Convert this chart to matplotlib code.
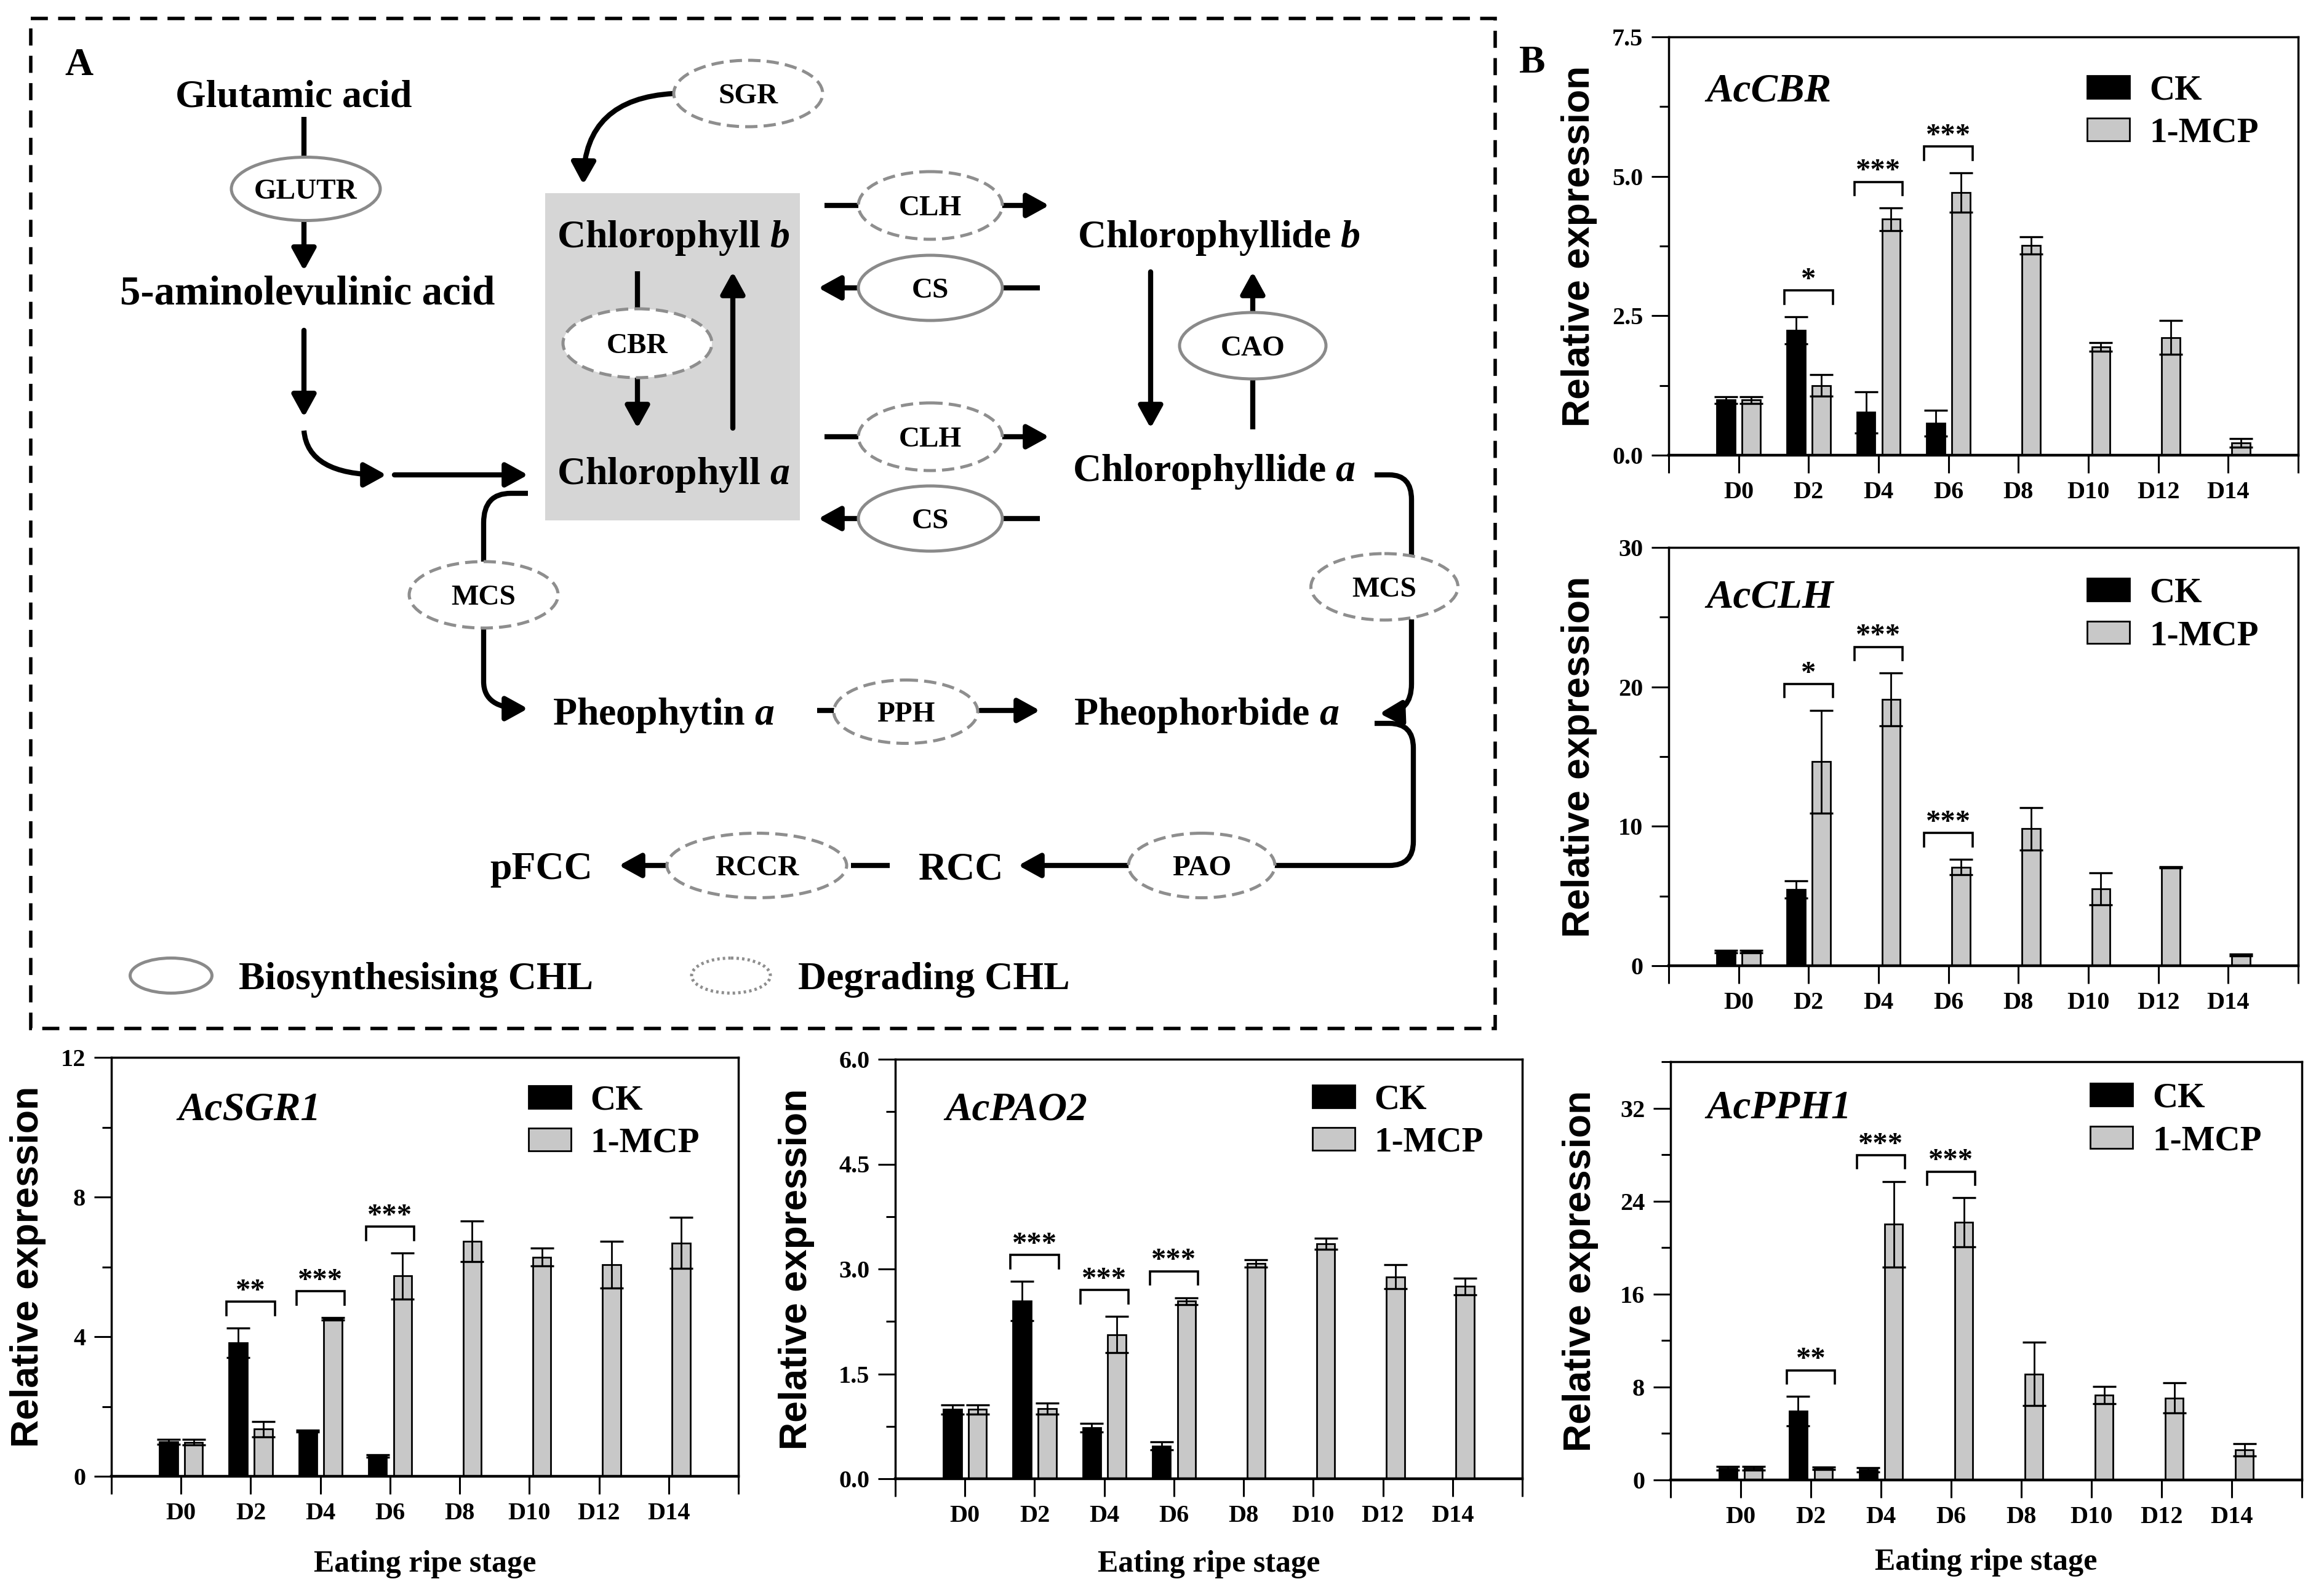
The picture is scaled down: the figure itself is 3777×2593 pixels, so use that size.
import numpy as np
import matplotlib
matplotlib.use('Agg')
import matplotlib.pyplot as plt
from matplotlib.patches import Ellipse, Rectangle, FancyArrowPatch
from matplotlib.path import Path
from matplotlib.ticker import MultipleLocator, FormatStrFormatter

plt.rcParams['font.family'] = ['Liberation Serif', 'DejaVu Serif']
plt.rcParams['font.weight'] = 'bold'
plt.rcParams['axes.labelweight'] = 'bold'
plt.rcParams['mathtext.fontset'] = 'custom'
plt.rcParams['mathtext.it'] = 'Liberation Serif:italic:bold'
plt.rcParams['mathtext.rm'] = 'Liberation Serif:bold'
plt.rcParams['mathtext.bf'] = 'Liberation Serif:bold'

W, H = 3777, 2593

# ---------------- data ----------------
stages = ['D0', 'D2', 'D4', 'D6', 'D8', 'D10', 'D12', 'D14']

cbr_ck = [0.99, 2.24, 0.77, 0.57, 0, 0, 0, 0]
cbr_ck_err = [0.06, 0.24, 0.37, 0.23, 0, 0, 0, 0]
cbr_mcp = [0.99, 1.25, 4.23, 4.71, 3.76, 1.94, 2.11, 0.22]
cbr_mcp_err = [0.06, 0.19, 0.20, 0.35, 0.15, 0.08, 0.30, 0.08]
cbr_sig = [(1, '*'), (2, '***'), (3, '***')]

clh_ck = [1.02, 5.46, 0, 0, 0, 0, 0, 0]
clh_ck_err = [0.08, 0.62, 0, 0, 0, 0, 0, 0]
clh_mcp = [1.02, 14.63, 19.10, 7.08, 9.83, 5.52, 7.06, 0.77]
clh_mcp_err = [0.10, 3.70, 1.88, 0.56, 1.52, 1.15, 0.05, 0.05]
clh_sig = [(1, '*'), (2, '***'), (3, '***')]

sgr_ck = [0.99, 3.82, 1.29, 0.58, 0, 0, 0, 0]
sgr_ck_err = [0.07, 0.42, 0.03, 0.03, 0, 0, 0, 0]
sgr_mcp = [0.97, 1.35, 4.51, 5.74, 6.73, 6.28, 6.06, 6.68]
sgr_mcp_err = [0.08, 0.22, 0.03, 0.66, 0.58, 0.25, 0.67, 0.73]
sgr_sig = [(1, '**'), (2, '***'), (3, '***')]

pao_ck = [0.99, 2.54, 0.73, 0.47, 0, 0, 0, 0]
pao_ck_err = [0.07, 0.28, 0.06, 0.06, 0, 0, 0, 0]
pao_mcp = [0.99, 1.00, 2.06, 2.54, 3.08, 3.36, 2.89, 2.75]
pao_mcp_err = [0.07, 0.08, 0.26, 0.05, 0.05, 0.08, 0.17, 0.12]
pao_sig = [(1, '***'), (2, '***'), (3, '***')]

pph_ck = [1.00, 5.93, 0.88, 0, 0, 0, 0, 0]
pph_ck_err = [0.15, 1.25, 0.20, 0, 0, 0, 0, 0]
pph_mcp = [1.00, 1.00, 22.00, 22.18, 9.13, 7.30, 7.05, 2.60]
pph_mcp_err = [0.15, 0.10, 3.70, 2.10, 2.72, 0.73, 1.30, 0.53]
pph_sig = [(1, '**'), (2, '***'), (3, '***')]

GRAY = '#c8c8c8'
fig = plt.figure(figsize=(W / 100, H / 100), dpi=100)

# ---------------- panel A : pathway diagram ----------------
dax = fig.add_axes([0, 0, 1, 1])
dax.set_xlim(0, W)
dax.set_ylim(H, 0)
dax.axis('off')

LW = 6
HEAD = '-|>,head_length=0.6,head_width=0.33'
MS = 36
TXT = 46
ETXT = 34


def arr(p0, p1):
    dax.add_patch(FancyArrowPatch(p0, p1, arrowstyle=HEAD, mutation_scale=MS,
                                  lw=LW, color='black', shrinkA=0, shrinkB=0,
                                  zorder=2))


def seg(p0, p1):
    dax.plot([p0[0], p1[0]], [p0[1], p1[1]], color='black', lw=LW,
             solid_capstyle='butt', zorder=2)


def curve(verts, codes, head=True):
    dax.add_patch(FancyArrowPatch(path=Path(verts, codes),
                                  arrowstyle=HEAD if head else '-',
                                  mutation_scale=MS, lw=LW, color='black',
                                  fill=head, zorder=2, capstyle='butt'))


def ell(x, y, w, h, kind, label=None, lw=3.6):
    if kind == 'solid':
        ls, ec = '-', '#8a8a8a'
    elif kind == 'dashed':
        ls, ec = (0, (4, 2)), '#8e8e8e'
    else:
        ls, ec = (0, (0.8, 1.0)), '#8e8e8e'
    dax.add_patch(Ellipse((x, y), w, h, fc='white', ec=ec, lw=lw, ls=ls,
                          zorder=3))
    if label:
        dax.text(x, y, label, ha='center', va='center_baseline',
                 fontsize=ETXT, zorder=4)


def lab(x, y, s, ha='center', size=TXT):
    dax.text(x, y, s, ha=ha, va='center_baseline', fontsize=size, zorder=4)


M, L3, C3 = Path.MOVETO, Path.LINETO, Path.CURVE3

# dashed frame
dax.add_patch(Rectangle((50, 30), 2380, 1642, fill=False, ec='black', lw=4,
                        ls=(0, (5, 3)), zorder=1))
# grey box behind chlorophyll a/b
dax.add_patch(Rectangle((886, 314), 414, 532, fc='#d6d6d6', ec='none',
                        zorder=0.5))

dax.text(128, 100, 'A', ha='center', va='center_baseline', fontsize=46)
dax.text(2490, 96, 'B', ha='center', va='center_baseline', fontsize=46)

lab(477, 152, 'Glutamic acid')
seg((494, 190), (494, 256))
ell(497, 307, 242, 103, 'solid', 'GLUTR')
arr((494, 358), (494, 440))
lab(500, 472, '5-aminolevulinic acid', size=48)
arr((494, 537), (494, 678))
curve([(494, 700), (500, 772), (628, 772)], [M, C3, C3])
arr((641, 772), (858, 772))

ell(1216, 152, 242, 108, 'dashed', 'SGR')
curve([(1095, 152), (950, 160), (948, 300)], [M, C3, C3])

lab(1094, 379, 'Chlorophyll $\\mathit{b}$')
seg((1036, 441), (1036, 503))
ell(1036, 558, 242, 112, 'dashed', 'CBR')
arr((1036, 614), (1036, 696))
arr((1191, 696), (1191, 442))
lab(1094, 764, 'Chlorophyll $\\mathit{a}$')

for yy, kind, name in [(334, 'dashed', 'CLH'), (710, 'dashed', 'CLH')]:
    seg((1340, yy), (1395, yy))
    ell(1512, yy, 234, 110, kind, name)
    arr((1629, yy), (1705, yy))
for yy in (468, 843):
    seg((1630, yy), (1690, yy))
    ell(1512, yy, 234, 106, 'solid', 'CS')
    arr((1395, yy), (1330, yy))

lab(1981, 379, 'Chlorophyllide $\\mathit{b}$')
arr((1870, 442), (1870, 696))
seg((2036, 616), (2036, 698))
ell(2036, 562, 238, 108, 'solid', 'CAO')
arr((2036, 508), (2036, 442))
lab(1973, 759, 'Chlorophyllide $\\mathit{a}$')

# MCS left branch
curve([(858, 802), (830, 802), (786, 802), (786, 850), (786, 913)],
      [M, L3, C3, C3, L3], head=False)
ell(786, 967, 242, 108, 'dashed', 'MCS')
curve([(786, 1021), (786, 1108), (786, 1152), (858, 1152)],
      [M, L3, C3, C3])
lab(1078, 1155, 'Pheophytin $\\mathit{a}$')
seg((1328, 1155), (1356, 1155))
ell(1472, 1157, 234, 103, 'dashed', 'PPH')
arr((1593, 1155), (1690, 1155))
lab(1961, 1155, 'Pheophorbide $\\mathit{a}$')

# MCS right branch
curve([(2234, 772), (2258, 772), (2294, 772), (2294, 812), (2294, 902)],
      [M, L3, C3, C3, L3], head=False)
ell(2250, 954, 239, 108, 'dashed', 'MCS')
curve([(2294, 1007), (2294, 1112), (2294, 1158), (2242, 1160)],
      [M, L3, C3, C3])

# to PAO / RCC / pFCC
curve([(2234, 1176), (2258, 1176), (2297, 1176), (2297, 1216), (2297, 1368),
       (2297, 1407), (2258, 1407), (2070, 1407)],
      [M, L3, C3, C3, L3, C3, C3, L3], head=False)
ell(1953, 1407, 238, 105, 'dashed', 'PAO')
arr((1834, 1407), (1655, 1407))
lab(1562, 1407, 'RCC')
seg((1383, 1407), (1446, 1407))
ell(1230, 1407, 292, 105, 'dashed', 'RCCR')
arr((1084, 1407), (1006, 1407))
lab(880, 1407, 'pFCC')

# legend of panel A
ell(278, 1586, 133, 57, 'solid')
lab(388, 1586, 'Biosynthesising CHL', ha='left')
ell(1188, 1586, 128, 57, 'dotted', lw=3.6)
lab(1297, 1586, 'Degrading CHL', ha='left')

# ---------------- bar charts ----------------
OFF, WID = 0.18, 0.26


def chart(rect, ck, ck_err, mcp, mcp_err, sig, ymax, major, minor, fmt,
          gene, gpos, leg_y, ylab_x, xlab_y=None):
    Lx, Rx, Ty, By = rect
    ax = fig.add_axes([Lx / W, 1 - By / H, (Rx - Lx) / W, (By - Ty) / H])
    x = np.arange(len(stages))
    ck_i = [i for i in range(len(stages)) if ck[i] > 0]
    ck_x = x[ck_i] - OFF
    ck_v = [ck[i] for i in ck_i]
    ck_e = [ck_err[i] for i in ck_i]
    b1 = ax.bar(ck_x, ck_v, WID, color='black', edgecolor='black', lw=2,
                zorder=2, label='CK')
    b2 = ax.bar(x + OFF, mcp, WID, color=GRAY, edgecolor='black', lw=2,
                zorder=2, label='1-MCP')
    ax.errorbar(ck_x, ck_v, yerr=ck_e, fmt='none', ecolor='black',
                elinewidth=2, capsize=14, capthick=2.4, zorder=3)
    ax.errorbar(x + OFF, mcp, yerr=mcp_err, fmt='none', ecolor='black',
                elinewidth=2, capsize=14, capthick=2.4, zorder=3)
    for i, stars in sig:
        top = max(ck[i] + ck_err[i], mcp[i] + mcp_err[i])
        yb = top + 0.063 * ymax
        lg = 0.032 * ymax
        ax.plot([i - 0.345, i - 0.345, i + 0.345, i + 0.345],
                [yb - lg, yb, yb, yb - lg], color='black', lw=2.6,
                solid_joinstyle='miter', zorder=4)
        ax.annotate(stars, (i, yb), xytext=(0, 3), textcoords='offset points',
                    ha='center', va='baseline', fontsize=35)
    ax.set_xlim(-1, len(stages))
    ax.set_ylim(0, ymax)
    ax.set_xticks(np.arange(-1, len(stages) + 1))
    ax.set_xticklabels([''] + stages + [''])
    ax.yaxis.set_major_locator(MultipleLocator(major))
    ax.yaxis.set_minor_locator(MultipleLocator(minor))
    ax.yaxis.set_major_formatter(FormatStrFormatter(fmt))
    ax.tick_params(axis='x', direction='out', length=21, width=2.2, pad=9,
                   labelsize=29)
    ax.tick_params(axis='y', which='major', direction='out', length=20,
                   width=2.2, pad=10, labelsize=29)
    ax.tick_params(axis='y', which='minor', direction='out', length=11,
                   width=2.2)
    for s in ax.spines.values():
        s.set_linewidth(2.5)
    ax.spines['bottom'].set_linewidth(3.2)
    ax.set_ylabel('Relative expression', family=['Liberation Sans'],
                  fontsize=45, fontweight='bold')
    ax.yaxis.set_label_coords((ylab_x - Lx) / (Rx - Lx), 0.5)
    ax.yaxis.label.set_va('center')
    if xlab_y is not None:
        ax.set_xlabel('Eating ripe stage', fontsize=36, fontweight='bold')
        ax.xaxis.set_label_coords(0.5, -(xlab_y - By) / (By - Ty))
        ax.xaxis.label.set_va('center')
    ax.text(gpos[0], gpos[1], gene, transform=ax.transAxes, fontsize=47,
            fontstyle='italic', fontweight='bold', ha='left',
            va='center_baseline')
    ax.legend([b1, b2], ['CK', '1-MCP'], loc='center left',
              bbox_to_anchor=(0.665, leg_y - 0.048), frameon=False,
              fontsize=41, handlelength=1.21, handleheight=0.62,
              handletextpad=0.56, labelspacing=0.3, borderpad=0,
              borderaxespad=0)
    return ax


chart((2712, 3735, 60, 740), cbr_ck, cbr_ck_err, cbr_mcp, cbr_mcp_err,
      cbr_sig, 7.5, 2.5, 1.25, '%.1f', 'AcCBR', (0.06, 0.88), 0.869, 2567)
chart((2712, 3735, 890, 1570), clh_ck, clh_ck_err, clh_mcp, clh_mcp_err,
      clh_sig, 30, 10, 5, '%d', 'AcCLH', (0.06, 0.89), 0.887, 2567)
chart((181, 1200, 1719, 2400), sgr_ck, sgr_ck_err, sgr_mcp, sgr_mcp_err,
      sgr_sig, 12, 4, 2, '%d', 'AcSGR1', (0.106, 0.885), 0.894, 46, 2543)
chart((1455, 2474, 1722, 2404), pao_ck, pao_ck_err, pao_mcp, pao_mcp_err,
      pao_sig, 6.0, 1.5, 0.75, '%.1f', 'AcPAO2', (0.08, 0.89), 0.90, 1294,
      2543)
chart((2715, 3741, 1726, 2406), pph_ck, pph_ck_err, pph_mcp, pph_mcp_err,
      pph_sig, 36, 8, 4, '%d', 'AcPPH1', (0.057, 0.90), 0.909, 2568, 2540)

fig.savefig('out.png', dpi=100, facecolor='white')
